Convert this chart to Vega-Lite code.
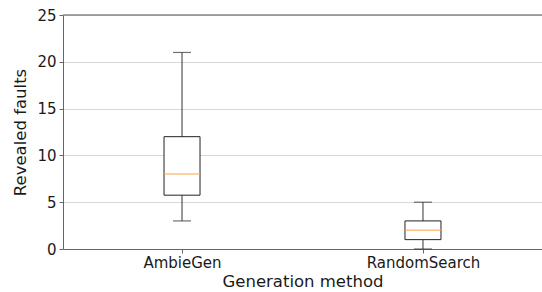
{
  "$schema": "https://vega.github.io/schema/vega-lite/v6.json",
  "width": 479,
  "height": 234,
  "autosize": {"type": "none"},
  "padding": {"left": 63, "top": 15, "right": 0, "bottom": 43},
  "background": "white",
  "config": {
    "view": {"stroke": null},
    "font": "DejaVu Sans",
    "axis": {
      "labelFont": "DejaVu Sans",
      "titleFont": "DejaVu Sans",
      "labelColor": "#1a1a1a",
      "titleColor": "#1a1a1a",
      "domainColor": "#666666",
      "tickColor": "#666666",
      "titleFontWeight": "normal"
    }
  },
  "data": {
    "values": [
      {"method": "AmbieGen", "low": 3, "q1": 5.75, "median": 8, "q3": 12, "high": 21},
      {"method": "RandomSearch", "low": 0, "q1": 1, "median": 2, "q3": 3, "high": 5}
    ]
  },
  "encoding": {
    "x": {
      "field": "method",
      "type": "nominal",
      "sort": null,
      "scale": {"type": "point", "padding": 0.494},
      "axis": {
        "title": "Generation method",
        "titleFontSize": 16.5,
        "titlePadding": 3,
        "labelFontSize": 15,
        "labelAngle": 0,
        "labelPadding": 2,
        "tickSize": 4,
        "grid": false
      }
    }
  },
  "layer": [
    {
      "mark": {"type": "rule", "color": "#888888", "strokeWidth": 1},
      "encoding": {"x": null, "y": {"datum": 25, "type": "quantitative"}}
    },
    {
      "mark": {"type": "rule", "color": "#333333", "strokeWidth": 1},
      "encoding": {
        "y": {
          "field": "low",
          "type": "quantitative",
          "scale": {"domain": [0, 25], "nice": false},
          "axis": {
            "title": "Revealed faults",
            "titleFontSize": 16.5,
            "titlePadding": 8,
            "labelFontSize": 15,
            "labelPadding": 3,
            "tickSize": 4,
            "values": [0, 5, 10, 15, 20, 25],
            "gridColor": "#d6d6d6",
            "grid": true
          }
        },
        "y2": {"field": "high"}
      }
    },
    {
      "mark": {"type": "bar", "size": 36, "fill": "white", "stroke": "#222222", "strokeWidth": 1},
      "encoding": {
        "y": {"field": "q1", "type": "quantitative"},
        "y2": {"field": "q3"}
      }
    },
    {
      "mark": {"type": "tick", "size": 36, "thickness": 1.5, "color": "#ffa552", "orient": "horizontal"},
      "encoding": {"y": {"field": "median", "type": "quantitative"}}
    },
    {
      "mark": {"type": "tick", "size": 18, "thickness": 1.2, "color": "#333333", "orient": "horizontal"},
      "encoding": {"y": {"field": "low", "type": "quantitative"}}
    },
    {
      "mark": {"type": "tick", "size": 18, "thickness": 1.2, "color": "#333333", "orient": "horizontal"},
      "encoding": {"y": {"field": "high", "type": "quantitative"}}
    }
  ]
}
